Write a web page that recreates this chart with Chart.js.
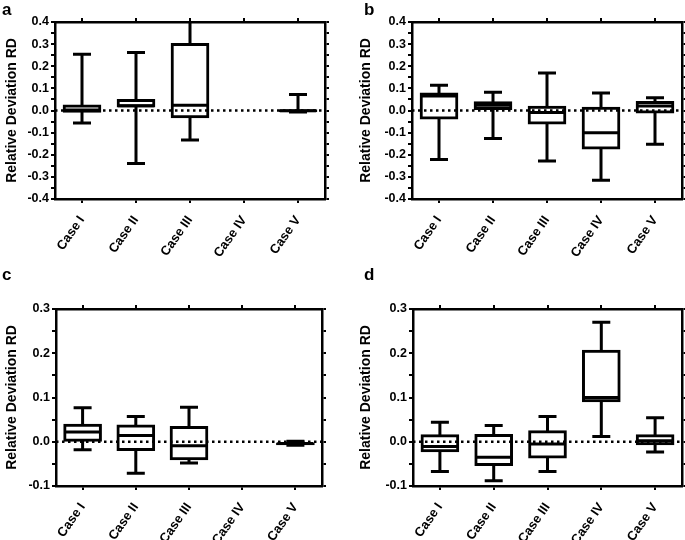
<!DOCTYPE html>
<html>
<head>
<meta charset="utf-8">
<script src="https://cdn.jsdelivr.net/npm/chart.js@4"></script>
<style>
  body { margin: 0; background: #fff; }
  #page { position: relative; width: 685px; height: 540px; overflow: hidden; }
  .panel { position: absolute; }
  .letter { position: absolute; font: bold 17px "Liberation Sans", Arial, sans-serif; line-height: 17px; color: #000; }
</style>
</head>
<body>
<div id="page">
  <canvas class="panel" id="chart-a" width="340" height="270" style="left:0;top:0"></canvas>
  <canvas class="panel" id="chart-b" width="345" height="270" style="left:340px;top:0"></canvas>
  <canvas class="panel" id="chart-c" width="340" height="270" style="left:0;top:270px"></canvas>
  <canvas class="panel" id="chart-d" width="345" height="270" style="left:340px;top:270px"></canvas>
  <div class="letter" style="left:2px;top:1px">a</div>
  <div class="letter" style="left:364px;top:1px">b</div>
  <div class="letter" style="left:2px;top:266px">c</div>
  <div class="letter" style="left:364px;top:266px">d</div>
</div>
<script>
/* =====================================================
   DATA
===================================================== */
const CASES = ["Case I", "Case II", "Case III", "Case IV", "Case V"];

const TICKS_AB = ["-0.4", "-0.3", "-0.2", "-0.1", "0.0", "0.1", "0.2", "0.3", "0.4"];
const TICKS_CD = ["-0.1", "0.0", "0.1", "0.2", "0.3"];

// panel a
const A_MIN = [-0.057, -0.239, -0.133, null, -0.007];
const A_Q1  = [-0.009,  0.015, -0.034, null, -0.006];
const A_MED = [ 0.002,  0.022,  0.024, null, -0.001];
const A_Q3  = [ 0.026,  0.051,  0.304, null,  0.004];
const A_MAX = [ 0.254,  0.262,  0.450, null,  0.072];

// panel b
const B_MIN = [-0.222, -0.127, -0.228, -0.315, -0.152];
const B_Q1  = [-0.039,  0.004, -0.062, -0.175, -0.012];
const B_MED = [ 0.066,  0.024, -0.009, -0.101,  0.020];
const B_Q3  = [ 0.080,  0.040,  0.020,  0.015,  0.042];
const B_MAX = [ 0.114,  0.083,  0.170,  0.079,  0.058];

// panel c
const C_MIN = [-0.018, -0.071, -0.048, null, -0.008];
const C_Q1  = [ 0.001, -0.020, -0.041, null, -0.007];
const C_MED = [ 0.022,  0.014, -0.009, null, -0.004];
const C_Q3  = [ 0.040,  0.038,  0.035, null,  0.000];
const C_MAX = [ 0.077,  0.057,  0.078, null,  0.001];

// panel d
const D_MIN = [-0.067, -0.088, -0.067, 0.012, -0.023];
const D_Q1  = [-0.023, -0.054, -0.037, 0.090, -0.007];
const D_MED = [-0.011, -0.035, -0.005, 0.100,  0.002];
const D_Q3  = [ 0.016,  0.017,  0.025, 0.207,  0.016];
const D_MAX = [ 0.044,  0.037,  0.057, 0.270,  0.054];


const FONT = "'Liberation Sans', Arial, sans-serif";


/* =====================================================
   WHISKERS / MEDIANS / ZERO LINE
===================================================== */
function makeBoxPlugin(mins, meds, maxs) {
  return {
    id: "boxPlot",
    beforeDatasetsDraw(chart) {
      const { ctx, chartArea } = chart;
      const xs = chart.scales.x, ys = chart.scales.y;
      ctx.save();
      ctx.beginPath();
      ctx.rect(chartArea.left, chartArea.top, chartArea.right - chartArea.left, chartArea.bottom - chartArea.top);
      ctx.clip();
      ctx.strokeStyle = "#000";
      ctx.lineWidth = 3;
      maxs.forEach((hi, i) => {
        if (hi == null) return;
        const cx = xs.getPixelForValue(i);
        const top = ys.getPixelForValue(hi);
        const bot = ys.getPixelForValue(mins[i]);
        ctx.beginPath();
        ctx.moveTo(cx, top); ctx.lineTo(cx, bot);
        ctx.moveTo(cx - 9, top); ctx.lineTo(cx + 9, top);
        ctx.moveTo(cx - 9, bot); ctx.lineTo(cx + 9, bot);
        ctx.stroke();
      });
      ctx.restore();
    },
    afterDatasetsDraw(chart) {
      const { ctx, chartArea } = chart;
      const xs = chart.scales.x, ys = chart.scales.y;
      ctx.save();
      ctx.strokeStyle = "#000";
      ctx.lineWidth = 3;
      meds.forEach((m, i) => {
        if (m == null) return;
        const cx = xs.getPixelForValue(i);
        const py = ys.getPixelForValue(m);
        ctx.beginPath();
        ctx.moveTo(cx - 18, py); ctx.lineTo(cx + 18, py);
        ctx.stroke();
      });
      // dotted zero line
      const zy = ys.getPixelForValue(0);
      ctx.lineWidth = 2.5;
      ctx.setLineDash([2.5, 3.5]);
      ctx.beginPath();
      ctx.moveTo(chartArea.left, zy);
      ctx.lineTo(chartArea.right, zy);
      ctx.stroke();
      ctx.restore();
    }
  };
}


/* =====================================================
   ONE PANEL
===================================================== */
function renderPanel(canvasId, mins, q1s, meds, q3s, maxs, yMin, yMax, tickLabels, box) {

  const ctx = document.getElementById(canvasId).getContext("2d");

  const tickCb = v => {
    const s = v.toFixed(1);
    return Math.abs(Math.round(v * 20)) % 2 === 0 && tickLabels.includes(s) ? s : "";
  };

  const grid = {
    display: true,
    drawOnChartArea: false,
    color: "#000",
    lineWidth: 2,
    tickLength: 4,
    offset: false
  };
  const border = { display: true, color: "#000", width: 2.5 };

  const fix = prop => s => {
    s[prop] = box[s.position];
    s.paddingLeft = 0; s.paddingRight = 0; s.paddingTop = 0; s.paddingBottom = 0;
  };

  new Chart(ctx, {
    type: "bar",
    data: {
      labels: CASES,
      datasets: [{
        data: CASES.map((c, i) => q1s[i] == null ? null : [q1s[i], q3s[i]]),
        backgroundColor: "#fff",
        borderColor: "#000",
        borderWidth: 3,
        borderSkipped: false,
        barThickness: 38,
        xAxisID: "x",
        yAxisID: "y"
      }]
    },
    options: {
      responsive: false,
      animation: false,
      events: [],
      layout: { padding: 0 },
      plugins: { legend: { display: false }, tooltip: { enabled: false } },
      scales: {
        x: {
          type: "category",
          position: "bottom",
          offset: true,
          grid: grid,
          border: border,
          ticks: {
            autoSkip: false,
            maxRotation: 55,
            minRotation: 55,
            padding: 10,
            color: "#000",
            font: { family: FONT, size: 13, weight: "bold" }
          },
          afterFit: fix("height")
        },
        x2: {
          type: "category",
          position: "top",
          labels: CASES,
          offset: true,
          grid: grid,
          border: border,
          ticks: { display: false },
          afterFit: fix("height")
        },
        y: {
          type: "linear",
          position: "left",
          min: yMin,
          max: yMax,
          grid: grid,
          border: border,
          ticks: {
            stepSize: 0.05,
            autoSkip: false,
            padding: 2,
            color: "#000",
            font: { family: FONT, size: 12.5, weight: "bold" },
            callback: tickCb
          },
          title: {
            display: true,
            text: "Relative Deviation RD",
            color: "#000",
            font: { family: FONT, size: 14, weight: "bold" },
            padding: { top: box.titlePad, bottom: 0 }
          },
          afterFit: fix("width")
        },
        y2: {
          type: "linear",
          position: "right",
          min: yMin,
          max: yMax,
          grid: grid,
          border: border,
          ticks: { display: false, stepSize: 0.05 },
          afterFit: fix("width")
        }
      }
    },
    plugins: [makeBoxPlugin(mins, meds, maxs)]
  });
}


/* =====================================================
   ON LOAD
===================================================== */
renderPanel("chart-a", A_MIN, A_Q1, A_MED, A_Q3, A_MAX, -0.4, 0.4, TICKS_AB,
  { left: 55, right: 15, top: 22, bottom: 71, titlePad: 4 });
renderPanel("chart-b", B_MIN, B_Q1, B_MED, B_Q3, B_MAX, -0.4, 0.4, TICKS_AB,
  { left: 72, right: 3, top: 22, bottom: 71, titlePad: 18 });
renderPanel("chart-c", C_MIN, C_Q1, C_MED, C_Q3, C_MAX, -0.1, 0.3, TICKS_CD,
  { left: 56, right: 18, top: 39, bottom: 54, titlePad: 4 });
renderPanel("chart-d", D_MIN, D_Q1, D_MED, D_Q3, D_MAX, -0.1, 0.3, TICKS_CD,
  { left: 73, right: 3, top: 39, bottom: 54, titlePad: 18 });
</script>
</body>
</html>
